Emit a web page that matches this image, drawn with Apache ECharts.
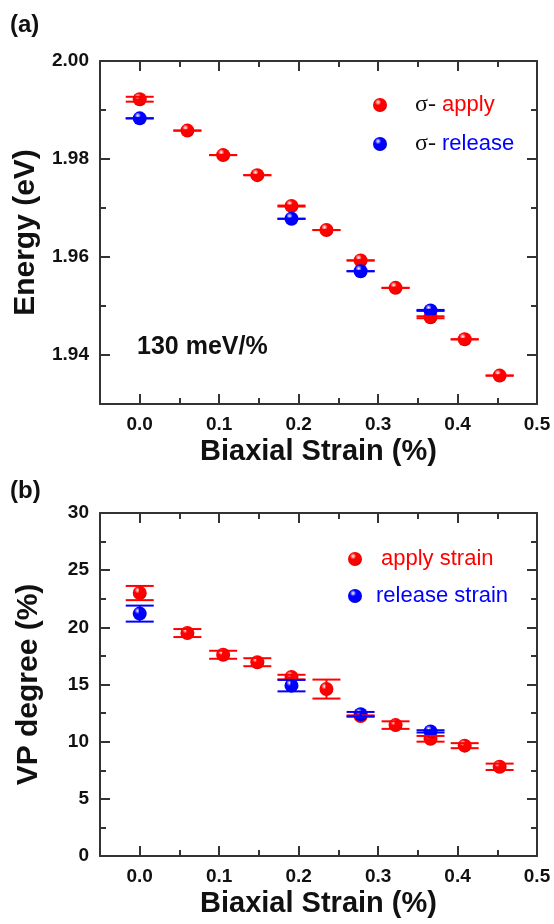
<!DOCTYPE html>
<html>
<head>
<meta charset="utf-8">
<script src="https://cdn.jsdelivr.net/npm/echarts@6/dist/echarts.min.js"></script>
<style>
  html, body { margin: 0; padding: 0; background: #fff; }
  #chart { width: 554px; height: 924px; }
</style>
</head>
<body>
<div id="chart"></div>
<script>
// panel (a): energy vs strain
const strainApply = [0, 0.06, 0.105, 0.148, 0.191, 0.235, 0.278, 0.322, 0.366, 0.409, 0.453];
const strainRelease = [0, 0.191, 0.278, 0.366];
const energyApply = [1.9922, 1.9858, 1.9808, 1.9767, 1.9704, 1.9655, 1.9593, 1.9537, 1.9477, 1.9432, 1.9358];
const energyApplyErr = [0.0005, 0, 0, 0, 0.0001, 0, 0, 0, 0.0002, 0, 0];
const energyRelease = [1.9883, 1.9678, 1.9571, 1.9491];
const energyReleaseErr = [0, 0, 0, 0.0001];

// panel (b): VP degree vs strain
const vpApply = [23.0, 19.5, 17.6, 16.95, 15.65, 14.6, 12.25, 11.45, 10.25, 9.65, 7.8];
const vpApplyErr = [0.62, 0.35, 0.35, 0.35, 0.2, 0.83, 0.05, 0.33, 0.25, 0.22, 0.28];
const vpRelease = [21.2, 14.9, 12.4, 10.9];
const vpReleaseErr = [0.7, 0.5, 0.2, 0.1];

// ticks
const xMajor = [0, 0.1, 0.2, 0.3, 0.4, 0.5];
const xMinor = [0.05, 0.15, 0.25, 0.35, 0.45];
const yMajorA = [1.94, 1.96, 1.98, 2.00];
const yMinorA = [1.95, 1.97, 1.99];
const yMajorB = [0, 5, 10, 15, 20, 25, 30];
const yMinorB = [2.5, 7.5, 12.5, 17.5, 22.5, 27.5];

const FONT = 'Liberation Sans, Arial, sans-serif';
const AXIS_COLOR = '#333';

const ball = (light, soft, mid, dark) => ({
  type: 'radial', x: 0.36, y: 0.3, r: 0.75,
  colorStops: [
    { offset: 0, color: light },
    { offset: 0.12, color: soft },
    { offset: 0.3, color: mid },
    { offset: 0.75, color: mid },
    { offset: 1, color: dark }
  ]
});
const RED_BALL = ball('#ffffff', '#ff9a9a', '#ff0000', '#cc0000');
const BLUE_BALL = ball('#ffffff', '#9a9aff', '#0000ff', '#0000b8');

// one side of the box: a major-tick axis and a minor-tick axis
function sideAxes(gridIndex, pos, min, max, majors, minors, labels) {
  const common = {
    type: 'value', gridIndex, position: pos, min, max,
    splitLine: { show: false }
  };
  const major = Object.assign({}, common, {
    axisLine: { show: true, onZero: false, lineStyle: { color: AXIS_COLOR, width: 2 } },
    axisTick: { show: true, inside: true, length: 10, customValues: majors,
      lineStyle: { color: AXIS_COLOR, width: 2 } },
    axisLabel: labels ? Object.assign({ show: true, customValues: majors }, labels) : { show: false }
  });
  const minor = Object.assign({}, common, {
    axisLine: { show: false, onZero: false },
    axisTick: { show: true, inside: true, length: 6, customValues: minors,
      lineStyle: { color: AXIS_COLOR, width: 2 } },
    axisLabel: { show: false }
  });
  return [major, minor];
}

const tickLabel = (fmt) => ({
  margin: 11, color: '#111', fontSize: 19, fontWeight: 'bold', fontFamily: FONT,
  formatter: fmt
});

const nameStyle = { color: '#111', fontSize: 29, fontWeight: 'bold', fontFamily: FONT };

function xAxes(gridIndex) {
  const bottom = sideAxes(gridIndex, 'bottom', -0.05, 0.5, xMajor, xMinor, tickLabel(v => v.toFixed(1)));
  Object.assign(bottom[0], {
    name: 'Biaxial Strain (%)', nameLocation: 'middle', nameGap: 33, nameTextStyle: nameStyle
  });
  const top = sideAxes(gridIndex, 'top', -0.05, 0.5, xMajor, xMinor, null);
  return bottom.concat(top);
}

function yAxes(gridIndex, min, max, majors, minors, fmt, name) {
  const left = sideAxes(gridIndex, 'left', min, max, majors, minors, tickLabel(fmt));
  Object.assign(left[0], {
    name, nameLocation: 'middle', nameGap: 56,
    nameTextStyle: Object.assign({}, nameStyle, { fontSize: 30 })
  });
  const right = sideAxes(gridIndex, 'right', min, max, majors, minors, null);
  return left.concat(right);
}

function errorBars(name, xs, ys, errs, color, xAxisIndex, yAxisIndex) {
  return {
    name: name + '-err', type: 'custom', xAxisIndex, yAxisIndex, z: 5,
    silent: true,
    data: xs.map((x, i) => [x, ys[i] - errs[i], ys[i] + errs[i]]),
    encode: { x: 0, y: [1, 2] },
    renderItem: (params, api) => {
      const hi = api.coord([api.value(0), api.value(2)]);
      const lo = api.coord([api.value(0), api.value(1)]);
      const half = 14;
      const style = { stroke: color, lineWidth: 2 };
      return {
        type: 'group',
        children: [
          { type: 'line', shape: { x1: hi[0], y1: hi[1], x2: lo[0], y2: lo[1] }, style },
          { type: 'line', shape: { x1: hi[0] - half, y1: hi[1], x2: hi[0] + half, y2: hi[1] }, style },
          { type: 'line', shape: { x1: lo[0] - half, y1: lo[1], x2: lo[0] + half, y2: lo[1] }, style }
        ]
      };
    }
  };
}

function points(name, xs, ys, color, xAxisIndex, yAxisIndex, z) {
  return {
    name, type: 'scatter', xAxisIndex, yAxisIndex, z,
    symbol: 'circle', symbolSize: 14,
    itemStyle: { color, opacity: 1 },
    data: xs.map((x, i) => [x, ys[i]])
  };
}

const legendText = { fontFamily: FONT, fontSize: 22, lineHeight: 24 };

const chart = echarts.init(document.getElementById('chart'), null, { renderer: 'canvas' });

chart.setOption({
  animation: false,
  backgroundColor: '#fff',
  title: [
    { text: '(a)', left: 5, top: 8, textStyle: { fontFamily: FONT, fontSize: 24, fontWeight: 'bold', color: '#111' } },
    { text: '(b)', left: 5, top: 474, textStyle: { fontFamily: FONT, fontSize: 24, fontWeight: 'bold', color: '#111' } },
    { text: '130 meV/%', left: 132, top: 330, textStyle: { fontFamily: FONT, fontSize: 25, fontWeight: 'bold', color: '#111' } }
  ],
  grid: [
    { left: 100, top: 61, width: 437, height: 343 },
    { left: 100, top: 513, width: 437, height: 343 }
  ],
  legend: [
    {
      orient: 'vertical', left: 368, top: 88, itemWidth: 14, itemHeight: 14, itemGap: 15,
      data: ['σ- apply', 'σ- release'],
      selectedMode: false,
      formatter: n => {
        const parts = n.split(' ');
        return '{g|}{s|' + parts[0] + '} {' + (parts[1] === 'apply' ? 'r' : 'b') + '|' + parts[1] + '}';
      },
      textStyle: Object.assign({}, legendText, {
        rich: {
          g: { width: 23 },
          s: { fontFamily: 'Liberation Serif, serif', fontSize: 24, color: '#111' },
          r: { fontFamily: FONT, fontSize: 22, color: '#ff0000' },
          b: { fontFamily: FONT, fontSize: 22, color: '#0000ff' }
        }
      })
    },
    {
      orient: 'vertical', left: 343, top: 542, itemWidth: 14, itemHeight: 14, itemGap: 13,
      data: ['apply strain', 'release strain'],
      selectedMode: false,
      formatter: n => n === 'apply strain' ? '{r|' + n + '}' : '{b|' + n + '}',
      textStyle: Object.assign({}, legendText, {
        rich: {
          r: { fontFamily: FONT, fontSize: 22, color: '#ff0000', padding: [0, 0, 0, 14] },
          b: { fontFamily: FONT, fontSize: 22, color: '#0000ff', padding: [0, 0, 0, 9] }
        }
      })
    }
  ],
  xAxis: xAxes(0).concat(xAxes(1)),
  yAxis: yAxes(0, 1.93, 2.00, yMajorA, yMinorA, v => v.toFixed(2), 'Energy (eV)')
    .concat(yAxes(1, 0, 30, yMajorB, yMinorB, v => String(Math.round(v)), 'VP degree (%)')),
  series: [
    points('σ- apply', strainApply, energyApply, RED_BALL, 0, 0, 2),
    points('σ- release', strainRelease, energyRelease, BLUE_BALL, 0, 0, 3),
    errorBars('σ- apply', strainApply, energyApply, energyApplyErr, '#ff0000', 0, 0),
    errorBars('σ- release', strainRelease, energyRelease, energyReleaseErr, '#0000ff', 0, 0),

    points('apply strain', strainApply, vpApply, RED_BALL, 4, 4, 2),
    points('release strain', strainRelease, vpRelease, BLUE_BALL, 4, 4, 3),
    errorBars('apply strain', strainApply, vpApply, vpApplyErr, '#ff0000', 4, 4),
    errorBars('release strain', strainRelease, vpRelease, vpReleaseErr, '#0000ff', 4, 4)
  ]
});
</script>
</body>
</html>
